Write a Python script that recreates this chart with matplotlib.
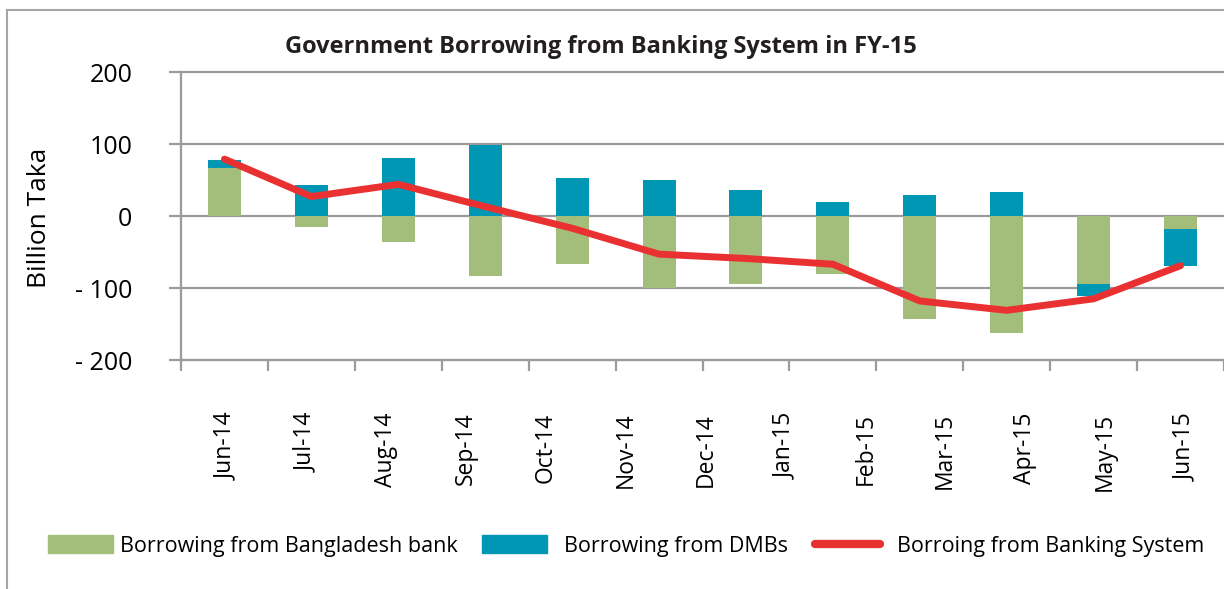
import numpy as np
import matplotlib
matplotlib.use("Agg")
import matplotlib.pyplot as plt
from matplotlib.patches import Patch
from matplotlib.lines import Line2D

plt.rcParams['font.family'] = ['Open Sans', 'DejaVu Sans']

# monthly borrowing, billion Taka
month_labels = ['Jun-14', 'Jul-14', 'Aug-14', 'Sep-14', 'Oct-14', 'Nov-14', 'Dec-14',
                'Jan-15', 'Feb-15', 'Mar-15', 'Apr-15', 'May-15', 'Jun-15']
bb = [67, -15, -36, -84, -67, -100, -95, -81, -143, -163, -94, -18]
dmb = [11, 43, 81, 98, 53, 50, 36, 19, 29, 33, -17, -52]
banking_system = [79, 27, 44, 13, -17, -53, -59, -67, -118, -131, -115, -69]

green = '#a3bd7a'
blue = '#0097b5'
red = '#ea3131'
grey = '#9b9b9b'

fig = plt.figure(figsize=(12.24, 5.89), dpi=100)
ax = fig.add_axes([181 / 1224, 1 - 360 / 589, 1 - 181 / 1224, 288 / 589])

x = np.arange(len(bb))
bb_arr = np.array(bb)
dmb_arr = np.array(dmb)
# DMB sits on top of BB when both go the same way, otherwise starts at zero
dmb_bottom = np.where(np.sign(dmb_arr) == np.sign(bb_arr), bb_arr, 0)

w = 0.38
ax.bar(x, bb_arr, w, color=green, zorder=2)
ax.bar(x, dmb_arr, w, bottom=dmb_bottom, color=blue, zorder=2)
ax.plot(x, banking_system, color=red, lw=5, solid_capstyle='round', zorder=3)

ax.set_xlim(-0.5, 11.5)
ax.set_ylim(-200, 200)
ax.set_yticks([-200, -100, 0, 100, 200])
ax.set_yticklabels(['- 200', '- 100', '0', '100', '200'], fontsize=18)
ax.grid(axis='y', color=grey, lw=1.6)
ax.set_axisbelow(True)
for gl in ax.get_ygridlines():
    gl.set_clip_on(False)
ax.tick_params(axis='y', length=9, width=1.6, color=grey, pad=26)

# category boundaries get tick marks, month names sit on their own spacing
ax.set_xticks(np.arange(-0.5, 12, 1), minor=True)
ax.set_xticks(np.linspace(0.02, 11.05, len(month_labels)))
ax.set_xticklabels(month_labels, rotation=90, fontsize=16.5, va='top', ha='center')
ax.tick_params(axis='x', which='major', length=0, pad=38)
ax.tick_params(axis='x', which='minor', length=8, width=1.6, color=grey)

for s in ['top', 'right']:
    ax.spines[s].set_visible(False)
ax.spines['left'].set_color(grey)
ax.spines['left'].set_linewidth(1.6)
ax.spines['bottom'].set_color(grey)
ax.spines['bottom'].set_linewidth(1.6)

fig.text(40 / 1224, 1 - 218 / 589, 'Billion Taka', rotation=90, fontsize=19,
         ha='center', va='center')
fig.text(601 / 1224, 1 - 47 / 589, 'Government Borrowing from Banking System in FY-15',
         fontsize=17, fontweight='bold', ha='center', va='center', color='#231f20')

# legend entries placed one by one along the bottom
legend_items = [
    (Patch(color=green), 'Borrowing from Bangladesh bank', 48, 0.35),
    (Patch(color=blue), 'Borrowing from DMBs', 482, 0.8),
    (Line2D([], [], color=red, lw=6, solid_capstyle='round'), 'Borroing from Banking System', 815, 0.8),
]
for handle, text, x0, tpad in legend_items:
    leg = fig.legend([handle], [text], loc='center left',
                     bbox_to_anchor=(x0 / 1224, 1 - 546 / 589), frameon=False,
                     fontsize=15.5, handlelength=3.0, handleheight=0.85,
                     handletextpad=tpad, borderpad=0, borderaxespad=0)

# outer frame
fig.add_artist(Line2D([7 / 1224, 7 / 1224], [0, 1 - 10 / 589], color='#a5a5a5', lw=1.5))
fig.add_artist(Line2D([7 / 1224, 1], [1 - 10 / 589, 1 - 10 / 589], color='#a5a5a5', lw=1.5))

fig.savefig('out.png', dpi=100)
